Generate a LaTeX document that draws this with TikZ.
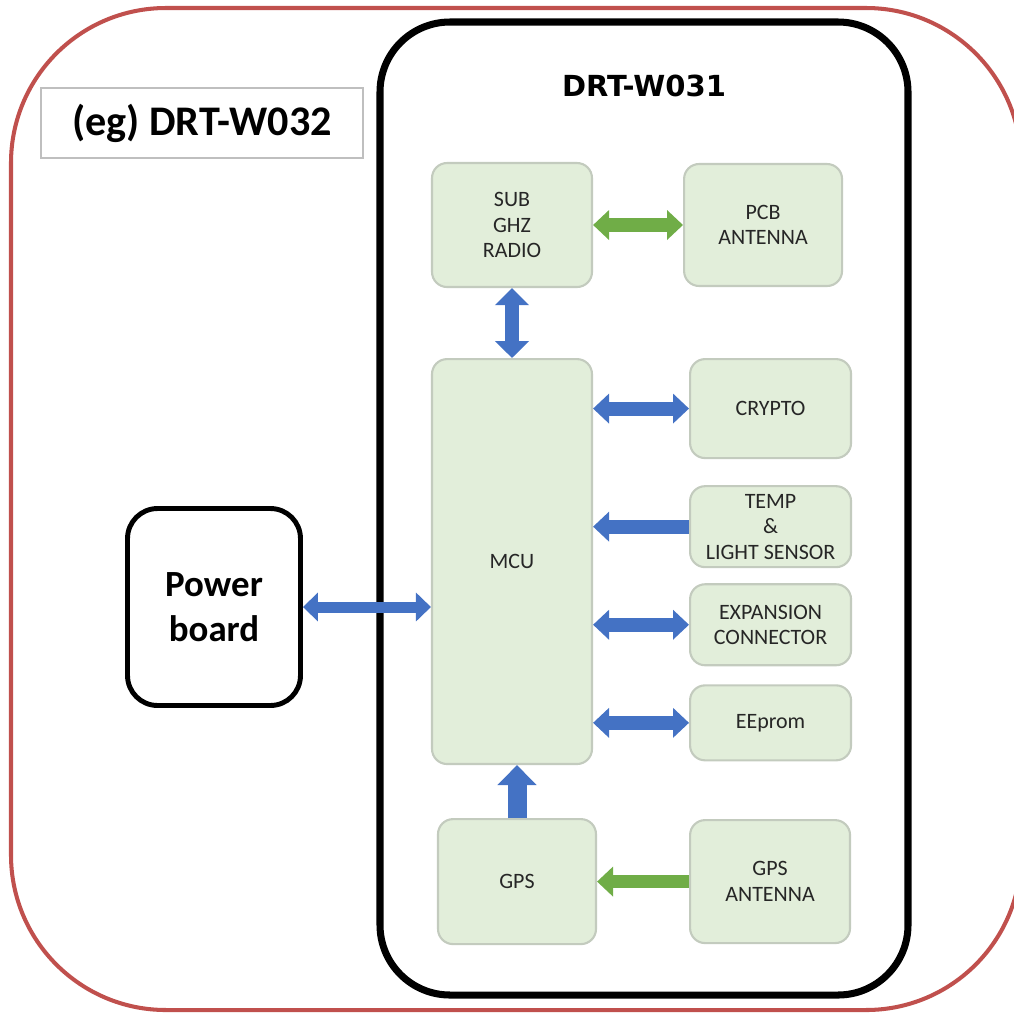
\documentclass[tikz,border=0pt]{standalone}
\usepackage{fontspec}
\setmainfont{Carlito}
\newfontfamily\titlefont{DejaVu Sans}
\usepackage{tikz}
\usetikzlibrary{positioning}
\usetikzlibrary{arrows.meta}
\definecolor{boxfill}{HTML}{E2EEDA}
\definecolor{boxline}{HTML}{C3CBBE}
\definecolor{busblue}{HTML}{4472C4}
\definecolor{rfgreen}{HTML}{70AD47}
\definecolor{outerred}{HTML}{C0504D}
\definecolor{labelgray}{HTML}{BFBFBF}
\tikzstyle{block} = [rectangle, rounded corners=0.3cm, inner sep=0pt, text centered, align=center, draw=boxline, line width=1.2pt, fill=boxfill, text=black!85, font=\fontsize{12.5}{14.5}\selectfont]
\tikzstyle{board} = [rectangle, rounded corners=0.6cm, inner sep=0pt, align=center, draw=black, line width=2.8pt, font=\bfseries\fontsize{21}{25.6}\selectfont]
\tikzstyle{bus} = [line width=0.28cm, draw=busblue, >={Triangle[width=0.58cm,length=0.32cm,fill=busblue]}]
\tikzstyle{rf} = [line width=0.28cm, draw=rfgreen, >={Triangle[width=0.58cm,length=0.32cm,fill=rfgreen]}]

\begin{document}
\begin{tikzpicture}[x=0.02cm, y=-0.02cm, node distance=1cm]
        \useasboundingbox (0,0) rectangle (1014,1012);
        % enclosures
        \draw [outerred, line width=2.3pt, rounded corners=3.1cm] (11,8) rectangle (1021,1010);
        \draw [black, line width=4pt, rounded corners=1.4cm] (380,22) rectangle (908,995);
        \node (example) [rectangle, draw=labelgray, line width=1.2pt, minimum width=6.44cm, minimum height=1.4cm, font=\bfseries\fontsize{24}{28}\selectfont] at (202,123) {(eg) DRT-W032};
        \node (title) [font=\titlefont\bfseries\fontsize{16.5}{20}\selectfont] at (644,86) {DRT-W031};

        % blocks
        \node (radio) [block, minimum width=3.2cm, minimum height=2.48cm] at (512,225) {SUB\\GHZ\\RADIO};
        \node (pcb) [block, right=1.8cm of radio, minimum width=3.16cm, minimum height=2.44cm] {PCB\\ANTENNA};
        \node (mcu) [block, below=1.4cm of radio, minimum width=3.2cm, minimum height=8.1cm] {MCU};
        \node (crypto) [block, right=1.92cm of mcu.north east, anchor=north west, minimum width=3.22cm, minimum height=1.98cm] {CRYPTO};
        \node (sensor) [block, below=0.52cm of crypto, minimum width=3.22cm, minimum height=1.62cm] {TEMP\\\&\\LIGHT SENSOR};
        \node (expansion) [block, below=0.3cm of sensor, minimum width=3.22cm, minimum height=1.62cm] {EXPANSION\\CONNECTOR};
        \node (eeprom) [block, below=0.36cm of expansion, minimum width=3.22cm, minimum height=1.5cm] {EEprom};
        \node (gps) [block, below=1.06cm of mcu, xshift=0.1cm, minimum width=3.16cm, minimum height=2.5cm] {GPS};
        \node (gpsant) [block, right=1.84cm of gps, minimum width=3.2cm, minimum height=2.46cm] {GPS\\ANTENNA};
        \node (power) [board, minimum width=3.46cm, minimum height=3.94cm] at (214,607) {Power\\board};

        % links
        \draw [rf, <->] (radio.east) -- (pcb.west);
        \draw [bus, <->, >={Triangle[width=0.66cm,length=0.34cm,fill=busblue]}] (radio.south) -- (mcu.north);
        \draw [bus, <->] (mcu.east |- crypto.west) -- (crypto.west);
        \draw [bus, ->] (sensor.west) -- (sensor.west -| mcu.east);
        \draw [bus, <->] (mcu.east |- expansion.west) -- (expansion.west);
        \draw [bus, <->] (mcu.east |- eeprom.west) -- (eeprom.west);
        \draw [bus, ->, line width=0.38cm, >={Triangle[width=0.76cm,length=0.4cm,fill=busblue]}] (gps.north) -- (gps.north |- mcu.south);
        \draw [rf, ->, line width=0.26cm] (gpsant.west) -- (gps.east);
        \draw [bus, <->, line width=0.22cm, >={Triangle[width=0.56cm,length=0.3cm,fill=busblue]}] (power.east) -- (power.east -| mcu.west);
    \end{tikzpicture}
\end{document}
